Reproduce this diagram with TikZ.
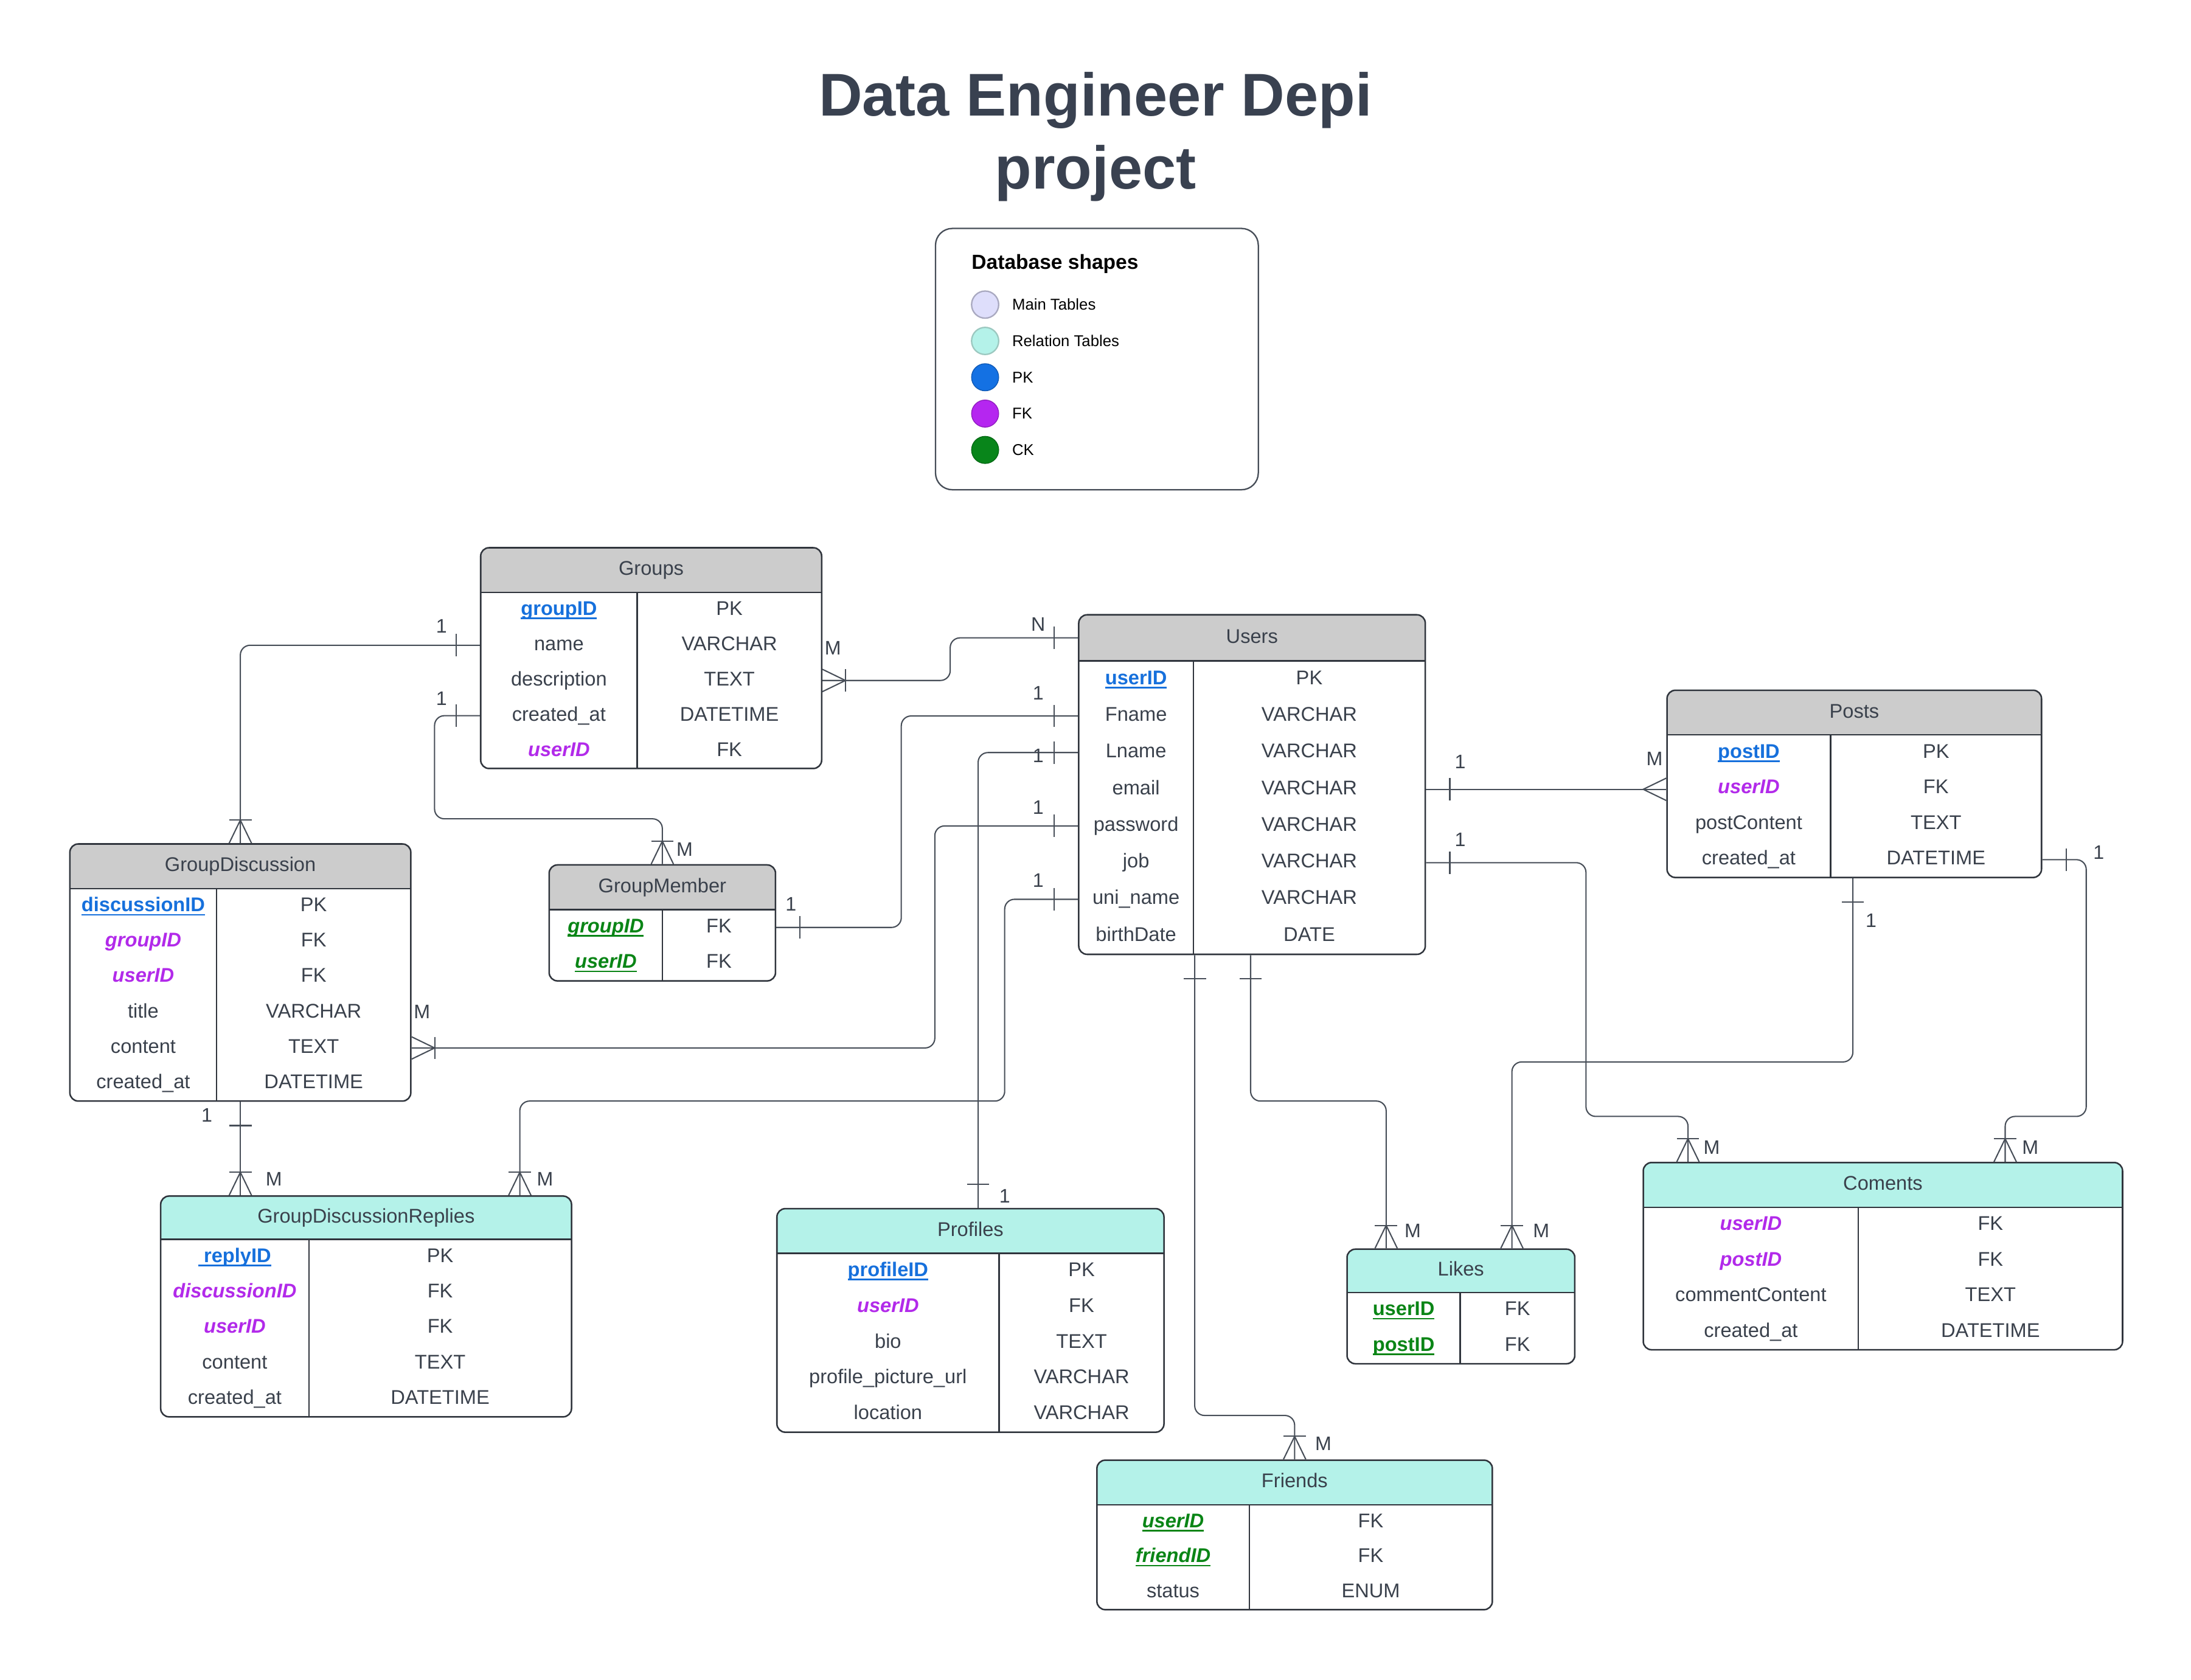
\documentclass[tikz,border=0pt]{standalone}
\usepackage{fontspec}
\setmainfont{Liberation Sans}
\usetikzlibrary{fit,calc}

\definecolor{ink}{HTML}{3A414C}
\definecolor{lineink}{HTML}{474E58}
\definecolor{tblborder}{HTML}{30353D}
\definecolor{hdrgray}{HTML}{CCCCCC}
\definecolor{hdrmint}{HTML}{B4F2E9}
\definecolor{pkblue}{HTML}{1670DC}
\definecolor{fkpurple}{HTML}{B22AEA}
\definecolor{ckgreen}{HTML}{0A8516}
\definecolor{lgmain}{HTML}{DEDEFB}
\definecolor{lgmainb}{HTML}{A9A9C0}
\definecolor{lgrel}{HTML}{B4F2E9}
\definecolor{lgrelb}{HTML}{9CC8C0}
\definecolor{lgpk}{HTML}{1471E3}
\definecolor{lgfk}{HTML}{B526F0}
\definecolor{lgck}{HTML}{08851A}
\definecolor{titleink}{HTML}{394150}

\newcommand\keyul[1]{\setbox0\hbox{#1}\rlap{\rule[-1.4pt]{\wd0}{0.55pt}}\box0}
\newcommand\pk[1]{{\color{pkblue}\bfseries\keyul{#1}}}
\newcommand\fk[1]{{\color{fkpurple}\bfseries\itshape #1}}
\newcommand\ckit[1]{{\color{ckgreen}\bfseries\itshape\keyul{#1}}}
\newcommand\ckup[1]{{\color{ckgreen}\bfseries\keyul{#1}}}

\tikzset{
  celltext/.style={inner sep=0pt, text=ink, font=\fontsize{7.1}{8.5}\selectfont, text height=5.2pt, text depth=1.5pt},
  lbltext/.style={inner sep=0pt, text=ink, font=\fontsize{7}{8.4}\selectfont},
  tblline/.style={draw=tblborder, line width=0.5pt},
  conn/.style={draw=lineink, line width=0.45pt, rounded corners=3.5pt},
  erdmark/.style={draw=lineink, line width=0.45pt},
}

% #1 name #2 x1 #3 y1 #4 x2 #5 y2 #6 header bottom #7 divider x #8 fill #9 title
\newcommand\erdtable[9]{%
  \coordinate (#1-nw) at (#2,#3);
  \coordinate (#1-se) at (#4,#5);
  \begin{scope}
    \clip[rounded corners=3pt] (#2,#3) rectangle (#4,#5);
    \fill[#8] (#2,#3) rectangle (#4,#6);
  \end{scope}
  \draw[tblline] (#2,#6) -- (#4,#6);
  \draw[tblline] (#7,#6) -- (#7,#5);
  \node[draw=tblborder, line width=0.55pt, rounded corners=3pt, inner sep=0pt, fit=(#1-nw)(#1-se)] (#1) {};
  \node[celltext] (#1-title) at ({(#2+#4)/2},{(#3+#6)/2}) {#9};
}
% #1 name #2 xL #3 xR #4 y #5 left #6 right
\newcommand\erdrow[6]{%
  \node[celltext] (#1) at (#2,#4) {#5};
  \node[celltext] (#1t) at (#3,#4) {#6};
}
\newcommand\mone[2]{\begin{scope}[shift={#1},rotate=#2]\draw[erdmark] (17,-8) -- (17,8);\end{scope}}
\newcommand\mmany[2]{\begin{scope}[shift={#1},rotate=#2]\draw[erdmark] (0,-8) -- (16.5,0) -- (0,8);\end{scope}}
\newcommand\mcrowbar[2]{\begin{scope}[shift={#1},rotate=#2]\draw[erdmark] (0,-8) -- (16.5,0) -- (0,8);\draw[erdmark] (16.5,-8) -- (16.5,8);\end{scope}}

\begin{document}
\begin{tikzpicture}[x=0.5pt,y=-0.5pt]
\useasboundingbox[fill=white] (0,0) rectangle (1568,1202.3);

% Title
\node[inner sep=0pt, text=titleink, font=\fontsize{21.6}{26}\selectfont\bfseries] (title1) at (784,72) {Data Engineer Depi};
\node[inner sep=0pt, text=titleink, font=\fontsize{21.6}{26}\selectfont\bfseries] (title2) at (784,124) {project};

% Legend
\node[draw=lineink, line width=0.5pt, rounded corners=6pt, minimum width=115.5pt, minimum height=93.5pt, anchor=north west, inner sep=0pt] (legend) at (669,163) {};
\node[anchor=west, inner sep=0pt, font=\fontsize{7.3}{8.8}\selectfont\bfseries] (legtitle) at (695,189) {Database shapes};
\node[circle, fill=lgmain, draw=lgmainb, line width=0.5pt, minimum size=9.7pt, inner sep=0pt] (lc1) at (705,218) {};
\node[circle, fill=lgrel, draw=lgrelb, line width=0.5pt, minimum size=9.7pt, inner sep=0pt] (lc2) at (705,244) {};
\node[circle, fill=lgpk, draw=lgpk!80!black, line width=0.3pt, minimum size=9.7pt, inner sep=0pt] (lc3) at (705,270) {};
\node[circle, fill=lgfk, draw=lgfk!80!black, line width=0.3pt, minimum size=9.7pt, inner sep=0pt] (lc4) at (705,296) {};
\node[circle, fill=lgck, draw=lgck!80!black, line width=0.3pt, minimum size=9.7pt, inner sep=0pt] (lc5) at (705,322) {};
\node[anchor=west, inner sep=0pt, font=\fontsize{5.6}{6.7}\selectfont] (ll1) at (724,218) {Main Tables};
\node[anchor=west, inner sep=0pt, font=\fontsize{5.6}{6.7}\selectfont] (ll2) at (724,244) {Relation Tables};
\node[anchor=west, inner sep=0pt, font=\fontsize{5.6}{6.7}\selectfont] (ll3) at (724,270) {PK};
\node[anchor=west, inner sep=0pt, font=\fontsize{5.6}{6.7}\selectfont] (ll4) at (724,296) {FK};
\node[anchor=west, inner sep=0pt, font=\fontsize{5.6}{6.7}\selectfont] (ll5) at (724,322) {CK};

% Groups
\erdtable{groups}{344}{392}{588}{550}{424}{456}{hdrgray}{Groups}
\erdrow{groups-r1}{400}{522}{436.6}{\pk{groupID}}{PK}
\erdrow{groups-r2}{400}{522}{461.8}{name}{VARCHAR}
\erdrow{groups-r3}{400}{522}{487}{description}{TEXT}
\erdrow{groups-r4}{400}{522}{512.2}{created\_at}{DATETIME}
\erdrow{groups-r5}{400}{522}{537.4}{\fk{userID}}{FK}

% Users
\erdtable{users}{772}{440}{1020}{683}{473}{854}{hdrgray}{Users}
\erdrow{users-r1}{813}{937}{486.1}{\pk{userID}}{PK}
\erdrow{users-r2}{813}{937}{512.4}{Fname}{VARCHAR}
\erdrow{users-r3}{813}{937}{538.6}{Lname}{VARCHAR}
\erdrow{users-r4}{813}{937}{564.9}{email}{VARCHAR}
\erdrow{users-r5}{813}{937}{591.1}{password}{VARCHAR}
\erdrow{users-r6}{813}{937}{617.4}{job}{VARCHAR}
\erdrow{users-r7}{813}{937}{643.6}{uni\_name}{VARCHAR}
\erdrow{users-r8}{813}{937}{669.9}{birthDate}{DATE}

% Posts
\erdtable{posts}{1193}{494}{1461}{628}{526}{1310}{hdrgray}{Posts}
\erdrow{posts-r1}{1251.5}{1385.5}{538.75}{\pk{postID}}{PK}
\erdrow{posts-r2}{1251.5}{1385.5}{564.25}{\fk{userID}}{FK}
\erdrow{posts-r3}{1251.5}{1385.5}{589.75}{postContent}{TEXT}
\erdrow{posts-r4}{1251.5}{1385.5}{615.25}{created\_at}{DATETIME}

% GroupDiscussion
\erdtable{gd}{50}{604}{294}{788}{636}{155}{hdrgray}{GroupDiscussion}
\erdrow{gd-r1}{102.5}{224.5}{648.7}{\pk{discussionID}}{PK}
\erdrow{gd-r2}{102.5}{224.5}{674}{\fk{groupID}}{FK}
\erdrow{gd-r3}{102.5}{224.5}{699.3}{\fk{userID}}{FK}
\erdrow{gd-r4}{102.5}{224.5}{724.7}{title}{VARCHAR}
\erdrow{gd-r5}{102.5}{224.5}{750}{content}{TEXT}
\erdrow{gd-r6}{102.5}{224.5}{775.3}{created\_at}{DATETIME}

% GroupMember
\erdtable{gm}{393}{619}{555}{702}{651}{474}{hdrgray}{GroupMember}
\erdrow{gm-r1}{433.5}{514.5}{663.75}{\ckit{groupID}}{FK}
\erdrow{gm-r2}{433.5}{514.5}{689.25}{\ckit{userID}}{FK}

% GroupDiscussionReplies
\erdtable{gdr}{115}{856}{409}{1014}{887}{221}{hdrmint}{GroupDiscussionReplies}
\erdrow{gdr-r1}{168}{315}{899.7}{\pk{\ replyID}}{PK}
\erdrow{gdr-r2}{168}{315}{925.1}{\fk{discussionID}}{FK}
\erdrow{gdr-r3}{168}{315}{950.5}{\fk{userID}}{FK}
\erdrow{gdr-r4}{168}{315}{975.9}{content}{TEXT}
\erdrow{gdr-r5}{168}{315}{1001.3}{created\_at}{DATETIME}

% Profiles
\erdtable{profiles}{556}{865}{833}{1025}{897}{715}{hdrmint}{Profiles}
\erdrow{profiles-r1}{635.5}{774}{909.8}{\pk{profileID}}{PK}
\erdrow{profiles-r2}{635.5}{774}{935.4}{\fk{userID}}{FK}
\erdrow{profiles-r3}{635.5}{774}{961}{bio}{TEXT}
\erdrow{profiles-r4}{635.5}{774}{986.6}{profile\_picture\_url}{VARCHAR}
\erdrow{profiles-r5}{635.5}{774}{1012.2}{location}{VARCHAR}

% Likes
\erdtable{likes}{964}{894}{1127}{976}{925}{1045}{hdrmint}{Likes}
\erdrow{likes-r1}{1004.5}{1086}{937.75}{\ckup{userID}}{FK}
\erdrow{likes-r2}{1004.5}{1086}{963.25}{\ckup{postID}}{FK}

% Coments
\erdtable{coments}{1176}{832}{1519}{966}{864}{1330}{hdrmint}{Coments}
\erdrow{coments-r1}{1253}{1424.5}{876.75}{\fk{userID}}{FK}
\erdrow{coments-r2}{1253}{1424.5}{902.25}{\fk{postID}}{FK}
\erdrow{coments-r3}{1253}{1424.5}{927.75}{commentContent}{TEXT}
\erdrow{coments-r4}{1253}{1424.5}{953.25}{created\_at}{DATETIME}

% Friends
\erdtable{friends}{785}{1045}{1068}{1152}{1077}{894}{hdrmint}{Friends}
\erdrow{friends-r1}{839.5}{981}{1089.5}{\ckit{userID}}{FK}
\erdrow{friends-r2}{839.5}{981}{1114.5}{\ckit{friendID}}{FK}
\erdrow{friends-r3}{839.5}{981}{1139.5}{status}{ENUM}

% bend coordinates
\coordinate (j1) at (680,0);
\coordinate (j3) at (311,586);
\coordinate (j4) at (645,0);
\coordinate (j5) at (700,0);
\coordinate (j6) at (669,0);
\coordinate (j7) at (719,788);
\coordinate (j7b) at (372,0);
\coordinate (j9) at (855,1013);
\coordinate (j10) at (895,788);
\coordinate (j10b) at (992,0);
\coordinate (j12) at (1135,799);
\coordinate (j12b) at (1208,0);
\coordinate (j13) at (1326,760);
\coordinate (j13b) at (1082,0);
\coordinate (j14) at (1493,799);
\coordinate (j14b) at (1435,0);

% C1 Groups - Users
\draw[conn] (groups.east |- groups-r3) -- (j1 |- groups-r3) -- (j1 |- users-title) -- (users.west |- users-title);
\mcrowbar{(groups.east |- groups-r3)}{0}
\mone{(users.west |- users-title)}{180}
% C2 Groups - GroupDiscussion
\draw[conn] (groups.west |- groups-r2) -- (gd.north |- groups-r2) -- (gd.north);
\mone{(groups.west |- groups-r2)}{180}
\mcrowbar{(gd.north)}{90}
% C3 Groups - GroupMember
\draw[conn] (groups.west |- groups-r4) -- (j3 |- groups-r4) -- (j3) -- (gm.north |- j3) -- (gm.north);
\mone{(groups.west |- groups-r4)}{180}
\mcrowbar{(gm.north)}{90}
% C4 Users - GroupMember
\draw[conn] (users.west |- users-r2) -- (j4 |- users-r2) -- (j4 |- gm-r1) -- (gm.east |- gm-r1);
\mone{(users.west |- users-r2)}{180}
\mone{(gm.east |- gm-r1)}{0}
% C5 Users - Profiles
\draw[conn] (users.west |- users-r3) -- (j5 |- users-r3) -- (j5 |- profiles.north);
\mone{(users.west |- users-r3)}{180}
\mone{(j5 |- profiles.north)}{90}
% C6 Users - GroupDiscussion
\draw[conn] (users.west |- users-r5) -- (j6 |- users-r5) -- (j6 |- gd-r5) -- (gd.east |- gd-r5);
\mone{(users.west |- users-r5)}{180}
\mcrowbar{(gd.east |- gd-r5)}{0}
% C7 Users - GroupDiscussionReplies
\draw[conn] (users.west |- users-r7) -- (j7 |- users-r7) -- (j7) -- (j7b |- j7) -- (j7b |- gdr.north);
\mone{(users.west |- users-r7)}{180}
\mcrowbar{(j7b |- gdr.north)}{90}
% C8 GroupDiscussion - Replies
\draw[conn] (gd.south) -- (gd.south |- gdr.north);
\mone{(gd.south)}{270}
\mcrowbar{(gd.south |- gdr.north)}{90}
% C9 Users - Friends
\draw[conn] (j9 |- users.south) -- (j9) -- (friends.north |- j9) -- (friends.north);
\mone{(j9 |- users.south)}{270}
\mcrowbar{(friends.north)}{90}
% C10 Users - Likes
\draw[conn] (j10 |- users.south) -- (j10) -- (j10b |- j10) -- (j10b |- likes.north);
\mone{(j10 |- users.south)}{270}
\mcrowbar{(j10b |- likes.north)}{90}
% C11 Users - Posts
\draw[conn] (users.east |- users-r4) -- (posts.west |- users-r4);
\mone{(users.east |- users-r4)}{0}
\mmany{(posts.west |- users-r4)}{180}
% C12 Users - Coments
\draw[conn] (users.east |- users-r6) -- (j12 |- users-r6) -- (j12) -- (j12b |- j12) -- (j12b |- coments.north);
\mone{(users.east |- users-r6)}{0}
\mcrowbar{(j12b |- coments.north)}{90}
% C13 Posts - Likes
\draw[conn] (j13 |- posts.south) -- (j13) -- (j13b |- j13) -- (j13b |- likes.north);
\mone{(j13 |- posts.south)}{270}
\mcrowbar{(j13b |- likes.north)}{90}
% C14 Posts - Coments
\draw[conn] (posts.east |- posts-r4) -- (j14 |- posts-r4) -- (j14) -- (j14b |- j14) -- (j14b |- coments.north);
\mone{(posts.east |- posts-r4)}{0}
\mcrowbar{(j14b |- coments.north)}{90}

% cardinality labels
\node[lbltext] (l1a) at (596,464) {M};
\node[lbltext] (l1b) at (743,447) {N};
\node[lbltext] (l2a) at (316,448) {1};
\node[lbltext] (l3a) at (316,500) {1};
\node[lbltext] (l3b) at (490,608) {M};
\node[lbltext] (l4a) at (743,496) {1};
\node[lbltext] (l4b) at (566,647) {1};
\node[lbltext] (l5a) at (743,541) {1};
\node[lbltext] (l5b) at (719,856) {1};
\node[lbltext] (l6a) at (743,578) {1};
\node[lbltext] (l6b) at (302,724) {M};
\node[lbltext] (l7a) at (743,630) {1};
\node[lbltext] (l7b) at (390,844) {M};
\node[lbltext] (l8a) at (148,798) {1};
\node[lbltext] (l8b) at (196,844) {M};
\node[lbltext] (l9b) at (947,1033) {M};
\node[lbltext] (l10b) at (1011,881) {M};
\node[lbltext] (l11a) at (1045,545) {1};
\node[lbltext] (l11b) at (1184,543) {M};
\node[lbltext] (l12a) at (1045,601) {1};
\node[lbltext] (l12b) at (1225,821) {M};
\node[lbltext] (l13a) at (1339,659) {1};
\node[lbltext] (l13b) at (1103,881) {M};
\node[lbltext] (l14a) at (1502,610) {1};
\node[lbltext] (l14b) at (1453,821) {M};
\end{tikzpicture}
\end{document}
